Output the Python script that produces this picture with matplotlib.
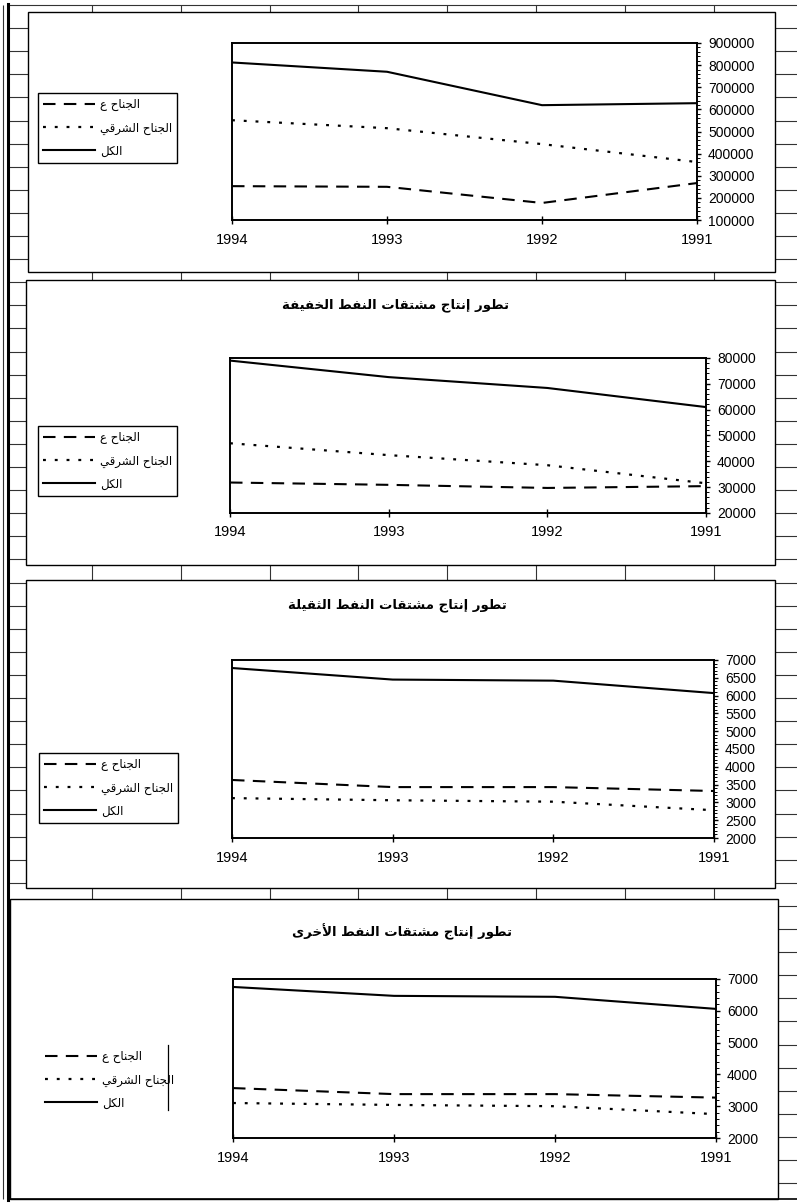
import matplotlib as mpl
mpl.use('Agg')
import matplotlib.pyplot as plt
from matplotlib.patches import Rectangle
from matplotlib.ticker import FixedLocator, AutoMinorLocator, FuncFormatter
import numpy as np

# values
years = ['1994', '1993', '1992', '1991']

p1_west = [253000, 250000, 177000, 267000]
p1_east = [551000, 515000, 443000, 362000]
p1_total = [812000, 770000, 619000, 628000]

p2_west = [31800, 30900, 29700, 30400]
p2_east = [47000, 42400, 38500, 31500]
p2_total = [79000, 72600, 68400, 61000]

p3_west = [3630, 3430, 3430, 3320]
p3_east = [3120, 3060, 3020, 2780]
p3_total = [6775, 6450, 6420, 6070]

p4_west = [3570, 3380, 3380, 3270]
p4_east = [3100, 3040, 3000, 2750]
p4_total = [6750, 6470, 6440, 6060]

label_west = 'الجناح ع'
label_east = 'الجناح الشرقي'
label_total = 'الكل'

title2 = 'تطور إنتاج مشتقات النفط الخفيفة'
title3 = 'تطور إنتاج مشتقات النفط الثقيلة'
title4 = 'تطور إنتاج مشتقات النفط الأخرى'


# matplotlib has no arabic shaping -> pick presentation forms by hand
FORMS = {
    '\u0627': ('\uFE8D', '\uFE8E', None, None),
    '\u0623': ('\uFE83', '\uFE84', None, None),
    '\u0625': ('\uFE87', '\uFE88', None, None),
    '\u0629': ('\uFE93', '\uFE94', None, None),
    '\u062A': ('\uFE95', '\uFE96', '\uFE97', '\uFE98'),
    '\u062B': ('\uFE99', '\uFE9A', '\uFE9B', '\uFE9C'),
    '\u062C': ('\uFE9D', '\uFE9E', '\uFE9F', '\uFEA0'),
    '\u062D': ('\uFEA1', '\uFEA2', '\uFEA3', '\uFEA4'),
    '\u062E': ('\uFEA5', '\uFEA6', '\uFEA7', '\uFEA8'),
    '\u0631': ('\uFEAD', '\uFEAE', None, None),
    '\u0634': ('\uFEB5', '\uFEB6', '\uFEB7', '\uFEB8'),
    '\u0637': ('\uFEC1', '\uFEC2', '\uFEC3', '\uFEC4'),
    '\u0639': ('\uFEC9', '\uFECA', '\uFECB', '\uFECC'),
    '\u0641': ('\uFED1', '\uFED2', '\uFED3', '\uFED4'),
    '\u0642': ('\uFED5', '\uFED6', '\uFED7', '\uFED8'),
    '\u0643': ('\uFED9', '\uFEDA', '\uFEDB', '\uFEDC'),
    '\u0644': ('\uFEDD', '\uFEDE', '\uFEDF', '\uFEE0'),
    '\u0645': ('\uFEE1', '\uFEE2', '\uFEE3', '\uFEE4'),
    '\u0646': ('\uFEE5', '\uFEE6', '\uFEE7', '\uFEE8'),
    '\u0648': ('\uFEED', '\uFEEE', None, None),
    '\u0649': ('\uFEEF', '\uFEF0', None, None),
    '\u064A': ('\uFEF1', '\uFEF2', '\uFEF3', '\uFEF4'),
}
LAM_ALEF = {'\u0627': ('\uFEFB', '\uFEFC'),
            '\u0623': ('\uFEF7', '\uFEF8'),
            '\u0625': ('\uFEF9', '\uFEFA')}


def shape(text):
    chars = []
    i = 0
    while i < len(text):
        c = text[i]
        if c == '\u0644' and i + 1 < len(text) and text[i + 1] in LAM_ALEF:
            chars.append(('LA', text[i + 1]))
            i += 2
        else:
            chars.append((c, None))
            i += 1
    out = []
    for k, (c, a) in enumerate(chars):
        prev = chars[k - 1][0] if k > 0 else None
        nxt = chars[k + 1][0] if k + 1 < len(chars) else None
        prev_joins = prev in FORMS and FORMS[prev][2] is not None
        if c == 'LA':
            iso, fin = LAM_ALEF[a]
            out.append(fin if prev_joins else iso)
            continue
        if c not in FORMS:
            out.append(c)
            continue
        iso, fin, ini, med = FORMS[c]
        join_next = ini is not None and (nxt in FORMS or nxt == 'LA')
        if prev_joins and join_next:
            out.append(med)
        elif prev_joins:
            out.append(fin)
        elif join_next:
            out.append(ini)
        else:
            out.append(iso)
    return ''.join(reversed(out))


W, H = 797, 1204
fig = plt.figure(figsize=(W / 100, H / 100), dpi=100)
fig.patch.set_facecolor('white')

num_font = ['Liberation Sans', 'DejaVu Sans']
ar_font = ['DejaVu Sans']

# spreadsheet grid behind the charts
bg = fig.add_axes([0, 0, 1, 1], zorder=0)
bg.set_xlim(0, W)
bg.set_ylim(H, 0)
bg.axis('off')
rows = np.arange(5, H, 23.1)
cols = np.arange(3.2, W + 10, 88.8)
bg.hlines(rows, 8, W, color='#333333', lw=0.8, zorder=1)
bg.vlines(cols, 5, H - 5, color='#333333', lw=0.8, zorder=1)
bg.plot([8, 8], [4, 1200], color='black', lw=2.2, zorder=5)
bg.plot([8, W], [1199, 1199], color='black', lw=1.2, zorder=5)

panels = [(28, 12, 775, 272), (26, 280, 775, 565), (26, 580, 775, 888), (10, 899, 778, 1199)]
for x0, y0, x1, y1 in panels:
    bg.add_patch(Rectangle((x0, y0), x1 - x0, y1 - y0, facecolor='white',
                           edgecolor='black', lw=1.0, zorder=3))
# legend of the last chart has only a side rule
bg.plot([168, 168], [1045, 1110], color='black', lw=0.9, zorder=5)

boxes = [(232, 43, 697, 220), (230, 358, 706, 513), (232, 660, 714, 838), (233, 979, 716, 1138)]
series = [(p1_west, p1_east, p1_total), (p2_west, p2_east, p2_total),
          (p3_west, p3_east, p3_total), (p4_west, p4_east, p4_total)]
yranges = [(100000, 900000, 100000), (20000, 80000, 10000), (2000, 7000, 500), (2000, 7000, 1000)]
legend_pos = [(38, 93, True), (38, 426, True), (39, 753, True), (40, 1045, False)]

x = np.arange(len(years))
for i in range(4):
    x0, y0, x1, y1 = boxes[i]
    ax = fig.add_axes([x0 / W, 1 - y1 / H, (x1 - x0) / W, (y1 - y0) / H], zorder=4)
    ax.set_facecolor('white')
    west, east, total = series[i]
    l1, = ax.plot(x, west, color='black', lw=1.5, dashes=(6, 4))
    l2, = ax.plot(x, east, color='black', lw=1.6, dashes=(1.3, 4))
    l3, = ax.plot(x, total, color='black', lw=1.5)
    ax.set_xlim(0, len(years) - 1)
    lo, hi, step = yranges[i]
    ax.set_ylim(lo, hi)
    ax.set_xticks(x)
    ax.set_xticklabels(years, fontfamily=num_font, fontsize=10.5)
    ax.yaxis.tick_right()
    ax.yaxis.set_major_locator(FixedLocator(np.arange(lo, hi + 1, step)))
    ax.yaxis.set_major_formatter(FuncFormatter(lambda v, p: '%d' % v))
    ax.yaxis.set_minor_locator(AutoMinorLocator(5))
    for lab in ax.get_yticklabels():
        lab.set_fontfamily(num_font)
        lab.set_fontsize(10)
    ax.tick_params(axis='x', direction='inout', length=6, width=1, pad=6)
    ax.tick_params(axis='y', which='major', direction='out', length=3, width=1, pad=5)
    ax.tick_params(axis='y', which='minor', direction='out', length=1.8, width=0.7)
    for s in ax.spines.values():
        s.set_linewidth(1.4)
        s.set_color('black')

    lx, ly, framed = legend_pos[i]
    leg = ax.legend([l1, l2, l3], [shape(label_west), shape(label_east), shape(label_total)],
                    loc='upper left', bbox_to_anchor=(lx / W, 1 - ly / H),
                    bbox_transform=fig.transFigure, borderaxespad=0,
                    frameon=framed, fancybox=False, framealpha=1, edgecolor='black',
                    prop={'family': ar_font, 'size': 8.5}, handlelength=4.4,
                    handletextpad=0.4, labelspacing=0.85, borderpad=0.45)
    leg.get_frame().set_linewidth(1.0)

titles = [(title2, 395, 305), (title3, 397, 605), (title4, 402, 932)]
for t, tx, ty in titles:
    fig.text(tx / W, 1 - ty / H, shape(t), ha='center', va='center',
             fontfamily=ar_font, fontsize=9.5, fontweight='bold')

fig.savefig('out.png', dpi=100, facecolor='white')
